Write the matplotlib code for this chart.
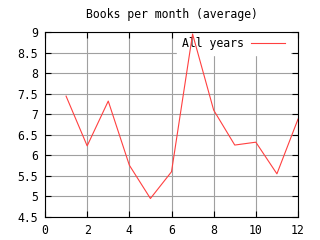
import matplotlib
matplotlib.use("Agg")
import matplotlib.pyplot as plt

# values
months = [1, 2, 3, 4, 5, 6, 7, 8, 9, 10, 11, 12]
books = [7.44, 6.23, 7.32, 5.76, 4.95, 5.60, 8.95, 7.10, 6.25, 6.32, 5.55, 6.88]
x_ticks = [0, 2, 4, 6, 8, 10, 12]
y_ticks = [4.5, 5, 5.5, 6, 6.5, 7, 7.5, 8, 8.5, 9]
y_labels = ["4.5", "5", "5.5", "6", "6.5", "7", "7.5", "8", "8.5", "9"]

plt.rcParams['font.family'] = ['DejaVu Sans Mono']
plt.rcParams['font.size'] = 8.3

fig = plt.figure(figsize=(3.2, 2.4), dpi=100)
ax = fig.add_axes([45 / 320, 1 - 217 / 240, 253 / 320, 185 / 240])

ax.plot(months, books, color='#ff4040', lw=0.8, label='All years', zorder=2)

ax.set_xlim(0, 12)
ax.set_ylim(4.5, 9)
ax.set_xticks(x_ticks)
ax.set_yticks(y_ticks)
ax.set_yticklabels(y_labels)
ax.grid(True, color='#a0a0a0', lw=0.8, zorder=0)
ax.set_axisbelow(True)
ax.tick_params(direction='in', length=4, width=0.8, top=True, right=True, pad=5)
for s in ax.spines.values():
    s.set_linewidth(0.8)
    s.set_zorder(5)

# gnuplot-style key: text first, white box, no border
leg = ax.legend(loc='upper right', bbox_to_anchor=(1 - 6 / 253, 1 + 2 / 185),
                frameon=True, markerfirst=False,
                handlelength=3.0, borderaxespad=0.15, borderpad=0.45,
                handletextpad=0.6, fancybox=False)
leg.get_frame().set_edgecolor('white')
leg.get_frame().set_facecolor('white')
leg.get_frame().set_alpha(1)
leg.set_zorder(1)

ax.set_title('Books per month (average)', fontsize=8.3, pad=10)

fig.savefig('out.png', dpi=100)
